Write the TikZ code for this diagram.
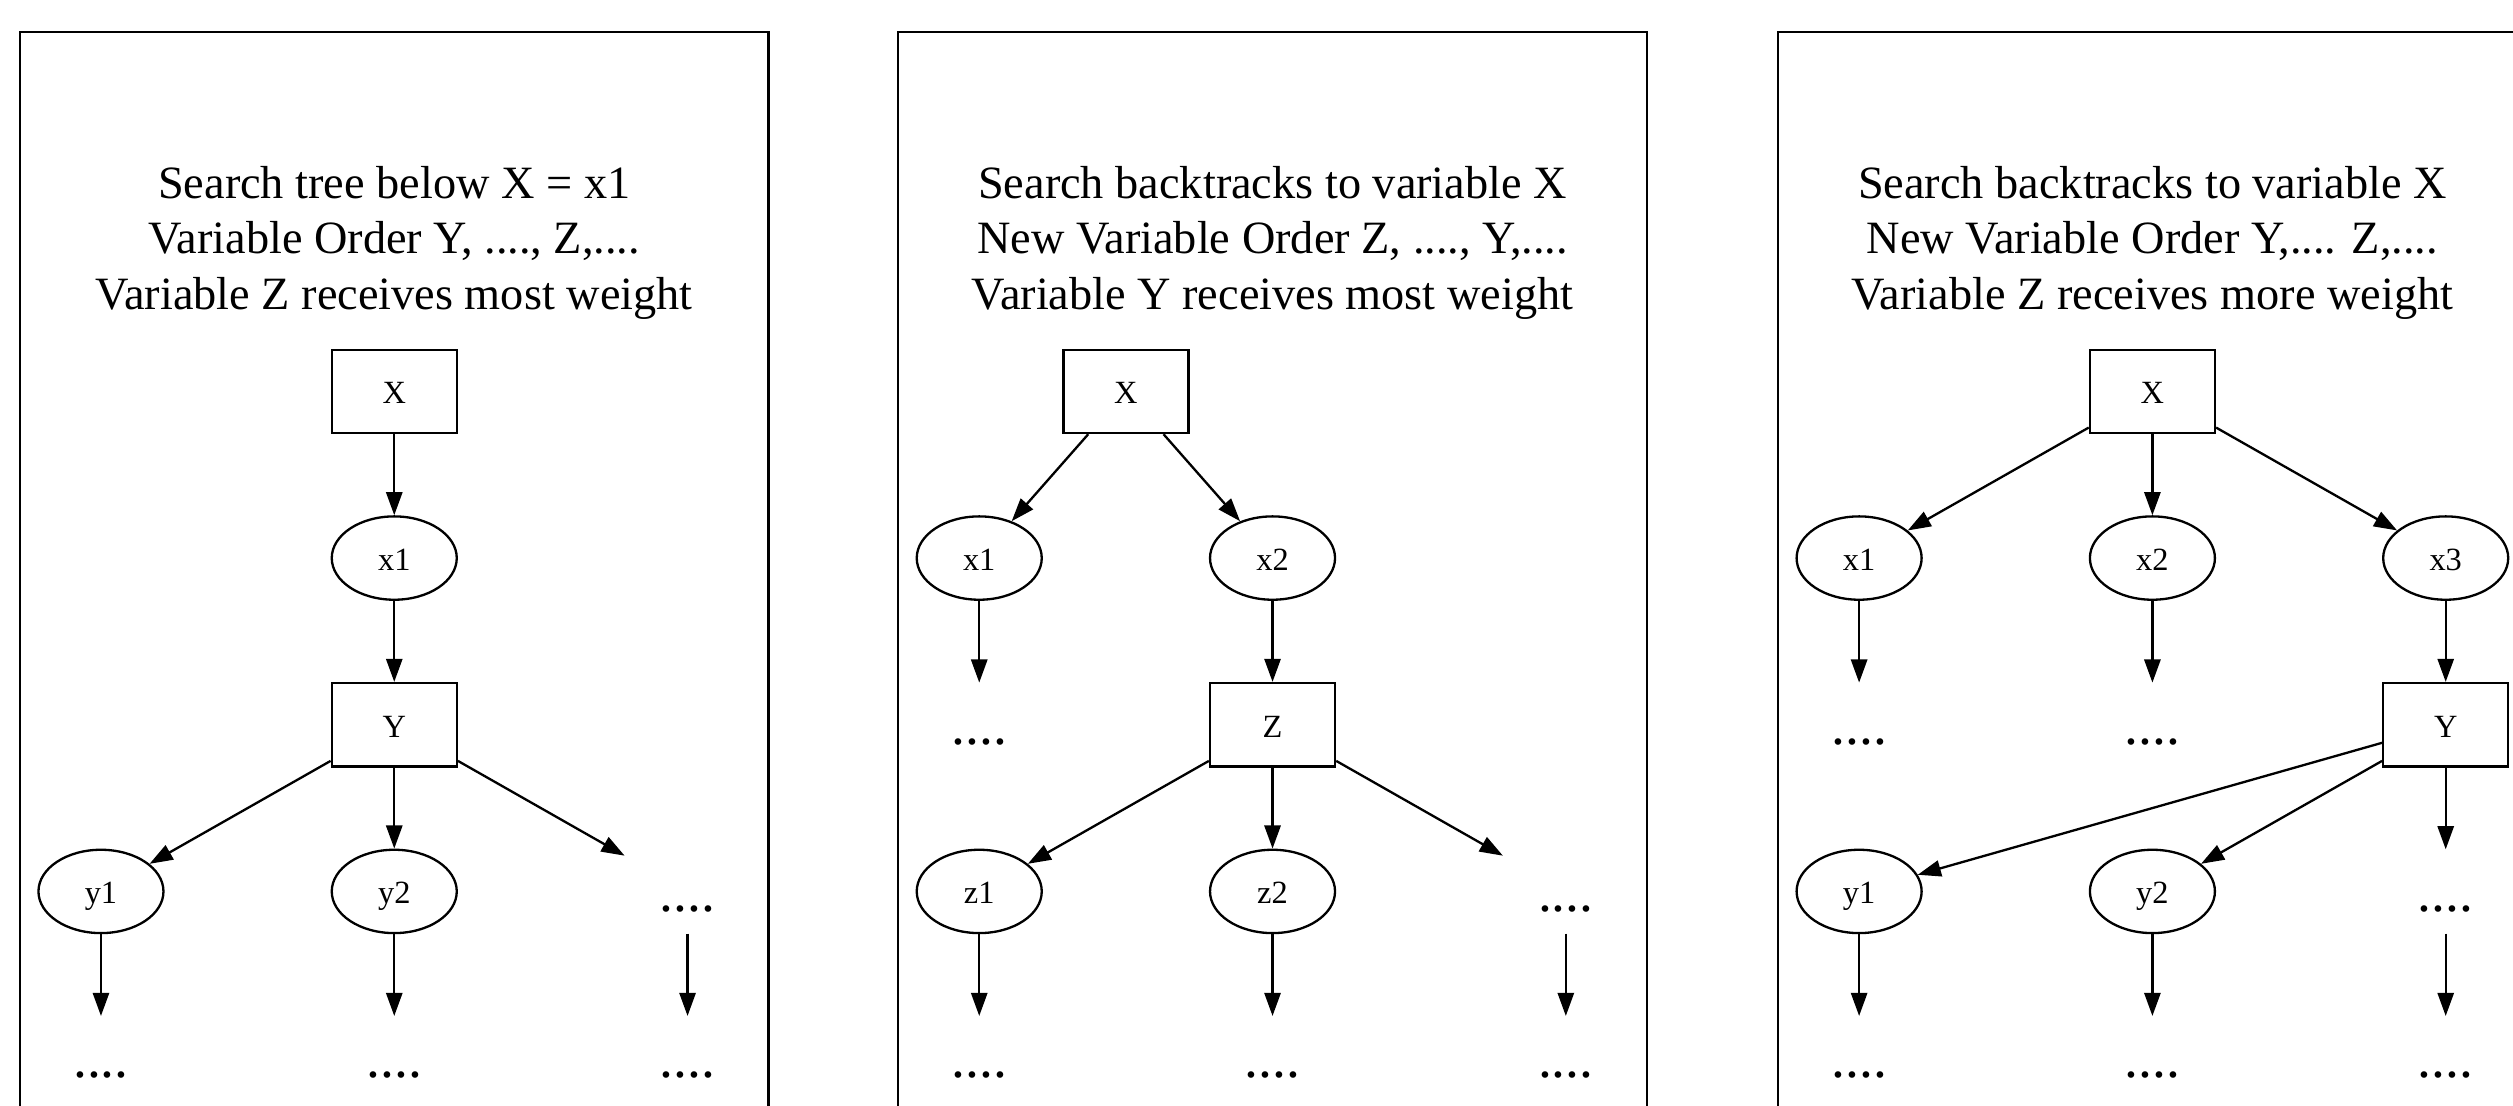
\documentclass[tikz,border=0pt]{standalone}
\usepackage{fontspec}
\setmainfont{Liberation Serif}
\usetikzlibrary{arrows.meta,shapes.geometric}
\begin{document}
\begin{tikzpicture}[x=0.6923pt,y=-0.6923pt,
  vbox/.style={draw, rectangle, line width=1pt, minimum width=54pt, minimum height=36pt, inner sep=0pt,
    font=\fontsize{14}{16.8}\selectfont, text height=10.6pt, text depth=0pt},
  vval/.style={draw, ellipse, line width=1pt, minimum width=54pt, minimum height=36pt, inner sep=0pt,
    font=\fontsize{14}{16.8}\selectfont, text height=10.6pt, text depth=0pt},
  more/.style={rectangle, minimum width=54pt, minimum height=36pt, inner sep=0pt,
    font=\fontsize{24}{28.8}\selectfont, text height=17pt, text depth=0pt},
  titletext/.style={anchor=base, inner sep=0pt, font=\fontsize{20}{24}\selectfont},
  arc/.style={line width=1pt, -{Triangle[length=10pt,width=7pt]}},
  panel/.style={draw, line width=1pt}]
\useasboundingbox (0,0) rectangle (1568,690);
\clip (0,0) rectangle (1568,690);
% panels
\draw[panel] (12.5,20) rectangle (479.5,698);
\draw[panel] (560.5,20) rectangle (1027.5,698);
\draw[panel] (1109.5,20) rectangle (1576.5,698);
% titles
\node[titletext] (t1a) at (246,123.7) {Search tree below X = x1};
\node[titletext] (t1b) at (246,158.4) {Variable Order Y, ...., Z,....};
\node[titletext] (t1c) at (246,193.0) {Variable Z receives most weight};
\node[titletext] (t2a) at (794,123.7) {Search backtracks to variable X};
\node[titletext] (t2b) at (794,158.4) {New Variable Order Z, ...., Y,....};
\node[titletext] (t2c) at (794,193.0) {Variable Y receives most weight};
\node[titletext] (t3a) at (1343,123.7) {Search backtracks to variable X};
\node[titletext] (t3b) at (1343,158.4) {New Variable Order Y,.... Z,....};
\node[titletext] (t3c) at (1343,193.0) {Variable Z receives more weight};
% panel 1
\node[vbox] (aX) at (246,244.2) {X};
\node[vval] (ax1) at (246,348.2) {x1};
\node[vbox] (aY) at (246,452.2) {Y};
\node[vval] (ay1) at (63,556.2) {y1};
\node[vval] (ay2) at (246,556.2) {y2};
\node[more] (ad3) at (429,556.2) {....};
\node[more] (ad4) at (63,660.2) {....};
\node[more] (ad5) at (246,660.2) {....};
\node[more] (ad6) at (429,660.2) {....};
\draw[arc] (aX) -- (ax1);
\draw[arc] (ax1) -- (aY);
\draw[arc] (aY) -- (ay1);
\draw[arc] (aY) -- (ay2);
\draw[arc] (aY) -- (ad3);
\draw[arc] (ay1) -- (ad4);
\draw[arc] (ay2) -- (ad5);
\draw[arc] (ad3) -- (ad6);
% panel 2
\node[vbox] (bX) at (702.5,244.2) {X};
\node[vval] (bx1) at (611,348.2) {x1};
\node[vval] (bx2) at (794,348.2) {x2};
\node[more] (bd1) at (611,452.2) {....};
\node[vbox] (bZ) at (794,452.2) {Z};
\node[vval] (bz1) at (611,556.2) {z1};
\node[vval] (bz2) at (794,556.2) {z2};
\node[more] (bd2) at (977,556.2) {....};
\node[more] (bd3) at (611,660.2) {....};
\node[more] (bd4) at (794,660.2) {....};
\node[more] (bd5) at (977,660.2) {....};
\draw[arc] (bX) -- (bx1);
\draw[arc] (bX) -- (bx2);
\draw[arc] (bx1) -- (bd1);
\draw[arc] (bx2) -- (bZ);
\draw[arc] (bZ) -- (bz1);
\draw[arc] (bZ) -- (bz2);
\draw[arc] (bZ) -- (bd2);
\draw[arc] (bz1) -- (bd3);
\draw[arc] (bz2) -- (bd4);
\draw[arc] (bd2) -- (bd5);
% panel 3
\node[vbox] (cX) at (1343,244.2) {X};
\node[vval] (cx1) at (1160,348.2) {x1};
\node[vval] (cx2) at (1343,348.2) {x2};
\node[vval] (cx3) at (1526,348.2) {x3};
\node[more] (cd1) at (1160,452.2) {....};
\node[more] (cd2) at (1343,452.2) {....};
\node[vbox] (cY) at (1526,452.2) {Y};
\node[vval] (cy1) at (1160,556.2) {y1};
\node[vval] (cy2) at (1343,556.2) {y2};
\node[more] (cd3) at (1526,556.2) {....};
\node[more] (cd4) at (1160,660.2) {....};
\node[more] (cd5) at (1343,660.2) {....};
\node[more] (cd6) at (1526,660.2) {....};
\draw[arc] (cX) -- (cx1);
\draw[arc] (cX) -- (cx2);
\draw[arc] (cX) -- (cx3);
\draw[arc] (cx1) -- (cd1);
\draw[arc] (cx2) -- (cd2);
\draw[arc] (cx3) -- (cY);
\draw[arc] (cY) -- (cy1);
\draw[arc] (cY) -- (cy2);
\draw[arc] (cY) -- (cd3);
\draw[arc] (cy1) -- (cd4);
\draw[arc] (cy2) -- (cd5);
\draw[arc] (cd3) -- (cd6);
\end{tikzpicture}
\end{document}
